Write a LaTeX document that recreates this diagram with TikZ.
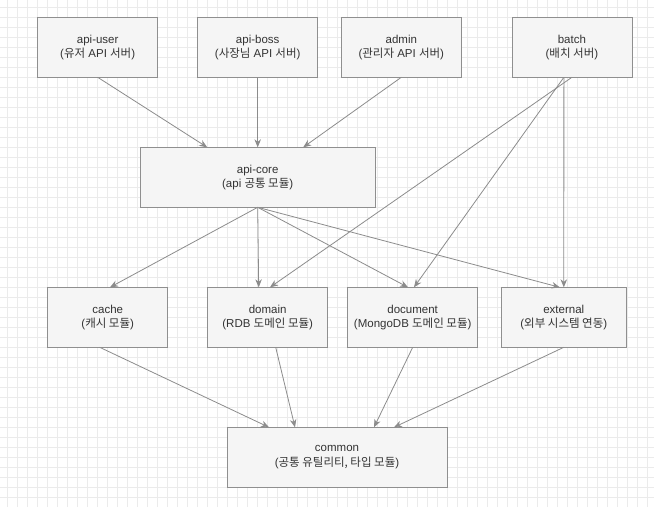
\documentclass[tikz,border=0pt]{standalone}
\usepackage{fontspec}
\setmainfont{Liberation Sans}
\newfontfamily\krfont{Noto Sans CJK KR}
\newcommand{\ko}[1]{{\krfont #1}}
\usepackage{tikz}
\usetikzlibrary{arrows.meta, positioning}
\definecolor{boxfill}{HTML}{F5F5F5}
\definecolor{boxline}{HTML}{8F8F8F}
\definecolor{arrowline}{HTML}{8C8C8C}
\definecolor{labeltext}{HTML}{333333}
\definecolor{gridline}{HTML}{EBEBEB}

\begin{document}
\begin{tikzpicture}[x=1pt, y=-1pt,
    module/.style={rectangle, draw=boxline, fill=boxfill, text=labeltext, line width=0.8pt, minimum width=120pt, minimum height=60pt, inner sep=0pt, outer sep=0pt, align=center, font=\fontsize{11.5}{14.5}\selectfont},
    dep/.style={draw=arrowline, line width=0.8pt, -{Stealth[length=8pt, width=6.5pt]}}]

                % Background grid
                \useasboundingbox (0,0) rectangle (654,507);
                \fill[white] (0,0) rectangle (654,507);
                \foreach \gx in {7.5,17.5,...,654} \draw[gridline, line width=0.5pt] (\gx,0) -- (\gx,507);
                \foreach \gy in {7.3,17.3,...,507} \draw[gridline, line width=0.5pt] (0,\gy) -- (654,\gy);

                % Nodes
                \node (apiuser) [module] at (97.7,47.3) {api-user\\(\ko{유저} API \ko{서버})};
                \node (apiboss) [module, right=40pt of apiuser] {api-boss\\(\ko{사장님} API \ko{서버})};
                \node (admin) [module, right=23.6pt of apiboss] {admin\\(\ko{관리자} API \ko{서버})};
                \node (batch) [module, right=50.6pt of admin] {batch\\(\ko{배치 서버})};
                \node (apicore) [module, minimum width=235pt, below=70pt of apiboss] {api-core\\(api \ko{공통 모듈})};
                \node (cache) [module] at (107.7,317.3) {cache\\(\ko{캐시 모듈})};
                \node (domain) [module, right=40pt of cache] {domain\\(RDB \ko{도메인 모듈})};
                \node (document) [module, minimum width=130pt, right=20pt of domain] {document\\(MongoDB \ko{도메인 모듈})};
                \node (external) [module, minimum width=125pt, right=23.6pt of document] {external\\(\ko{외부 시스템 연동})};
                \node (common) [module, minimum width=220pt] at (337,457.3) {common\\(\ko{공통 유틸리티, 타입 모듈})};

                % Edges
                \draw[dep] (apiuser.south) -- ([xshift=-50.5pt]apicore.north);
                \draw[dep] (apiboss.south) -- (apicore.north);
                \draw[dep] (admin.south) -- ([xshift=45.5pt]apicore.north);
                \draw[dep] (apicore.south) -- ([xshift=2.3pt]cache.north);
                \draw[dep] (apicore.south) -- ([xshift=-9pt]domain.north);
                \draw[dep] (apicore.south) -- ([xshift=-4.7pt]document.north);
                \draw[dep] (apicore.south) -- ([xshift=-4pt]external.north);
                \draw[dep] (batch.south) -- ([xshift=2.3pt]domain.north);
                \draw[dep] ([xshift=-8pt]batch.south) -- ([xshift=1.3pt]document.north);
                \draw[dep] ([xshift=-8pt]batch.south) -- (external.north);
                \draw[dep] ([xshift=-8pt]cache.south) -- ([xshift=-68pt]common.north);
                \draw[dep] ([xshift=8pt]domain.south) -- ([xshift=-42pt]common.north);
                \draw[dep] (document.south) -- ([xshift=37pt]common.north);
                \draw[dep] (external.south) -- ([xshift=57pt]common.north);
            \end{tikzpicture}
\end{document}
